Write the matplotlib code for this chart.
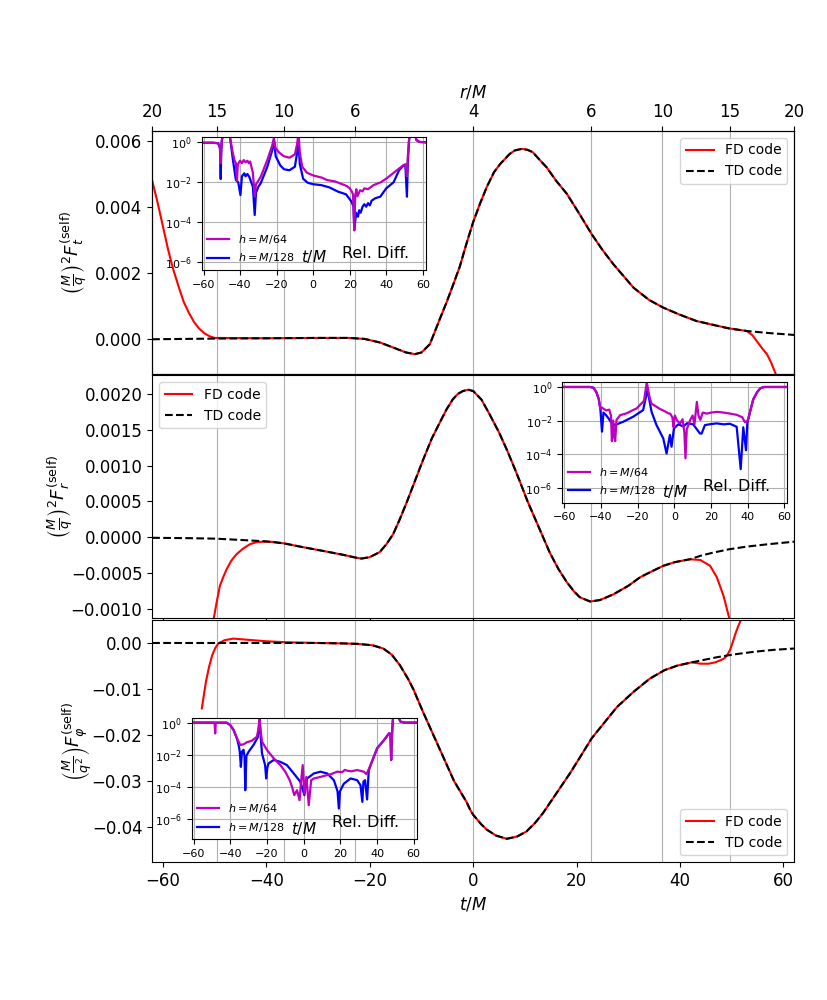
# self-force comparison FD vs TD code, with relative difference insets
import numpy as np
import matplotlib
matplotlib.use('Agg')
import matplotlib.pyplot as plt

# ---- top axis: r/M labels at the times where the orbit passes them
r_tick_t = [-62.1, -49.6, -36.6, -22.85, 0.0, 22.85, 36.6, 49.6, 62.1]
r_tick_labels = ['20', '15', '10', '6', '4', '6', '10', '15', '20']

# ---- F_t (top panel)
ft_t = [-62.1, -56, -50, -40, -30, -24, -21, -18, -15.5, -13, -11.3, -10, -8.4, -7.5,
        -6.5, -5.2, -4, -2.6, -1.3, 0, 1.3, 2.6, 4, 5.2, 7, 8, 9.4, 10.5, 11.5, 13, 14.2, 16,
        18.1, 20.5, 22.9, 25, 27.1, 31, 34, 36.7, 40, 43.2, 46, 49.4, 52.9, 57, 62.1]
ft_td = [0.0, 0.00001, 0.00002, 0.00003, 0.00004, 0.00004, 0.00001, -0.0001, -0.00025,
         -0.0004, -0.00045, -0.0004, -0.00015, 0.0002, 0.0006, 0.0011, 0.0016, 0.0022,
         0.0029, 0.00355, 0.0041, 0.0046, 0.00505, 0.0053, 0.0056, 0.00571, 0.00576,
         0.00573, 0.00566, 0.0054, 0.0052, 0.0048, 0.0044, 0.0038, 0.00318, 0.0027, 0.00227,
         0.00156, 0.00119, 0.00096, 0.00074, 0.00055, 0.00045, 0.00033, 0.00025, 0.00019,
         0.00013]
ft_fd_lt = [-62.1, -61, -60, -59, -58, -57, -56, -55, -54, -53, -52, -51, -50]
ft_fd_lv = [0.0048, 0.0041, 0.0034, 0.0027, 0.0021, 0.0016, 0.00113, 0.0008, 0.00052,
            0.00032, 0.00018, 0.00009, 0.00004]
ft_fd_rt = [52.9, 54, 54.8, 56, 56.8, 57.6, 58.4, 59]
ft_fd_rv = [0.00025, 0.00012, -0.00005, -0.0003, -0.00045, -0.0007, -0.00101, -0.00125]

# ---- F_r (middle panel)
fr_t = [-62.1, -55, -49.8, -45, -40, -36.6, -33, -29, -25, -22.8, -21.6, -20, -18.1,
        -16.8, -15.5, -14.2, -12.9, -11.3, -9.7, -8, -6.4, -5.2, -4, -3, -2, -1, 0, 1.6,
        3.2, 5, 6.5, 8, 9, 10.5, 12.3, 14.8, 16.5, 18.1, 19.5, 20.6, 22.6, 24.5, 27.1, 30,
        32.3, 34.5, 36.8, 39, 41.9, 44, 46.4, 49.5, 52.9, 57, 62.1]
fr_td = [-0.00001, -0.000015, -0.000022, -0.00004, -0.00006, -0.000088, -0.00014,
         -0.000194, -0.00025, -0.000286, -0.0003, -0.00028, -0.00021, -0.0001, 0.00004,
         0.00025, 0.00048, 0.00078, 0.00108, 0.00138, 0.00161, 0.00178, 0.00192, 0.002,
         0.00204, 0.00206, 0.00204, 0.00192, 0.00171, 0.00146, 0.00122, 0.00096, 0.00078,
         0.0005, 0.0002, -0.000217, -0.00045, -0.00063, -0.00076, -0.00084, -0.0009,
         -0.00088, -0.0008, -0.00068, -0.00056, -0.00048, -0.0004, -0.00035, -0.00031,
         -0.00026, -0.000217, -0.00017, -0.000133, -0.0001, -0.000064]
fr_fd_lt = [-50.4, -49.6, -49, -48.3, -47.7, -46.8, -45.8, -44.5, -43.2, -41.9, -40.6, -38.7]
fr_fd_lv = [-0.00122, -0.0009, -0.00068, -0.00055, -0.00045, -0.00033, -0.00024, -0.00016,
            -0.0001, -0.00007, -0.000064, -0.000067]
fr_fd_rt = [41.9, 43.9, 45.8, 47.1, 48.4, 49.4, 49.9]
fr_fd_rv = [-0.00031, -0.00032, -0.0004, -0.00056, -0.00082, -0.0011, -0.00125]

# ---- F_phi (bottom panel)
fp_t = [-62.1, -40, -30, -25, -22.3, -19.5, -17.4, -15.8, -14.2, -12.6, -11.6, -9.7, -7.7,
        -5.7, -3.7, -1.3, -0.6, 0, 1.5, 2.6, 4.4, 6.5, 8.5, 10.3, 12, 13.5, 16.1, 18.7,
        20.7, 22.9, 25.2, 27.8, 31, 34.2, 37, 39.5, 42.3, 47.1, 50.3, 54.4, 58, 62.1]
fp_td = [0.0, 0.0, 0.0, -0.0001, -0.0002, -0.0005, -0.0012, -0.0025, -0.0048, -0.0078,
         -0.01, -0.015, -0.02, -0.025, -0.03, -0.0345, -0.0362, -0.0373, -0.0393, -0.0405,
         -0.0418, -0.0425, -0.042, -0.0409, -0.039, -0.0369, -0.0326, -0.0283, -0.0247,
         -0.0207, -0.0175, -0.0139, -0.0106, -0.0077, -0.0059, -0.0049, -0.0042, -0.0031,
         -0.0025, -0.0019, -0.0015, -0.0012]
fp_fd_lt = [-52.5, -51.7, -51.1, -50.5, -49.9, -49.3, -48.1, -46.4, -44, -42, -40, -36, -32]
fp_fd_lv = [-0.0142, -0.0084, -0.0052, -0.0027, -0.0011, -0.0001, 0.0006, 0.00095, 0.00073,
            0.00055, 0.00037, 0.00015, 0.00005]
fp_fd_rt = [42.3, 44, 45.5, 46.8, 47.9, 48.6, 49.2, 49.7, 50.2, 50.7, 51.3, 51.9, 52.3]
fp_fd_rv = [-0.0042, -0.0045, -0.0045, -0.0042, -0.0037, -0.0033, -0.0025, -0.0014, 0.0002,
            0.002, 0.0038, 0.0053, 0.0062]

# ---- relative differences (insets)
rt_m64_t = [-61, -55, -52, -51, -50.6, -50.3, -50, -49.2, -46, -45.4, -44, -43, -42.3, -41.7,
            -41.2, -40, -39, -38, -37, -36, -35.2, -34.5, -33, -32, -31.3, -30, -28.7, -25.1,
            -22.4, -21.5, -20.5, -18.5, -16, -13, -10, -8.8, -8.0, -7.3, -6, -3.4, 0, 4.8, 7.5,
            12, 18.4, 20, 21.2, 21.8, 22.5, 23, 23.6, 24.2, 25.7, 27, 28, 30, 33, 37, 40.3, 45,
            49.4, 50.5, 51.3, 51.8, 52.5, 53.2, 55.5, 56.5, 58, 61.5]
rt_m64_v = [0.95, 0.95, 0.9, 0.6, 0.09, 0.5, 1.2, 3, 3, 1.5, 0.3, 0.12, 0.09, 0.012, 0.08,
            0.12, 0.09, 0.13, 0.1, 0.12, 0.09, 0.11, 0.03, 0.0019, 0.008, 0.012, 0.019, 0.13,
            0.7, 1.6, 0.5, 0.3, 0.2, 0.17, 0.25, 0.8, 3, 0.3, 0.06, 0.03, 0.022, 0.017, 0.013,
            0.011, 0.0065, 0.005, 0.0034, 0.0025, 0.00004, 0.002, 0.0045, 0.002, 0.004, 0.0035,
            0.005, 0.0045, 0.0072, 0.01, 0.016, 0.035, 0.072, 0.08, 0.02, 0.2, 1.5, 3, 3, 1.3,
            1.05, 1.0]
rt_m128_t = [-61, -55, -52, -51, -50.6, -50.3, -50, -49.2, -46, -45.4, -44, -42.3, -41,
             -39.8, -39, -37.7, -37, -36, -35, -33, -32, -31.3, -30, -28.7, -25.1, -22.4,
             -21.5, -20.5, -18, -16, -13, -10, -8.8, -8.0, -7.3, -5.5, -3, 0, 4.5, 9, 13.6,
             18, 20.9, 22.1, 22.5, 23.5, 24.5, 25.2, 26, 27, 28, 29, 30, 31, 32, 34, 36.7, 40,
             44, 47, 49.5, 50.5, 51.3, 51.8, 52.5, 53.2, 55.5, 56.5, 58, 61.5]
rt_m128_v = [0.95, 0.95, 0.9, 0.5, 0.0145, 0.3, 1.2, 3, 3, 1.5, 0.15, 0.013, 0.01, 0.0023,
             0.02, 0.028, 0.02, 0.026, 0.019, 0.006, 0.00023, 0.003, 0.006, 0.009, 0.06, 0.4,
             1.3, 0.2, 0.07, 0.045, 0.04, 0.06, 0.3, 0.9, 0.08, 0.015, 0.0095, 0.008, 0.0072,
             0.0055, 0.0034, 0.0025, 0.0011, 0.0006, 0.00004, 0.0003, 0.00019, 0.0004, 0.0003,
             0.0006, 0.0008, 0.0006, 0.0009, 0.0007, 0.0012, 0.0016, 0.0019, 0.005, 0.01, 0.04,
             0.07, 0.06, 0.0019, 0.1, 1.3, 3, 3, 1.3, 1.05, 1.0]

rr_m64_t = [-61, -46, -44, -42.5, -41.2, -40.3, -39.4, -38.6, -37, -35.5, -34.5, -34, -33.3,
            -32.6, -32.2, -31.5, -29.5, -26, -22, -20.6, -16.5, -15, -13.5, -12.4, -10, -7.9,
            -5, -3.3, -2.2, -1, -0.4, 0.3, 1.5, 3.2, 4.5, 5.5, 6.1, 6.8, 8.7, 10, 11, 12.3,
            13.2, 14.2, 15.5, 17.8, 20, 23.3, 27, 30.5, 34, 37, 38.5, 40, 41.5, 43, 45.2, 47,
            49, 61.6]
rr_m64_v = [1.0, 1.0, 0.9, 0.5, 0.2, 0.05, 0.06, 0.05, 0.04, 0.045, 0.02, 0.0006, 0.01,
            0.0009, 0.0006, 0.011, 0.021, 0.027, 0.045, 0.052, 0.15, 1.9, 0.25, 0.1, 0.07,
            0.05, 0.035, 0.027, 0.026, 0.015, 0.004, 0.02, 0.01, 0.0068, 0.012, 0.002,
            0.000057, 0.003, 0.011, 0.02, 0.006, 0.13, 0.02, 0.011, 0.03, 0.026, 0.03, 0.033,
            0.03, 0.026, 0.022, 0.016, 0.008, 0.01, 0.04, 0.18, 0.5, 0.85, 1.0, 1.0]
rr_m128_t = [-61, -46, -44, -42.5, -41.2, -40.3, -39.4, -38.6, -37, -35.5, -34.5, -32.4,
             -27.9, -22.4, -17, -14.6, -12.4, -9.7, -6, -4.2, -2.4, -1.5, -0.2, 2.2, 4.9, 7,
             10.3, 14, 14.9, 16.7, 20, 23.1, 27, 30.3, 34, 36.2, 37.6, 39.1, 39.8, 41.5, 43,
             45.2, 47, 49, 61.6]
rr_m128_v = [1.0, 1.0, 0.9, 0.5, 0.2, 0.05, 0.0022, 0.03, 0.02, 0.012, 0.008, 0.0054,
             0.0085, 0.017, 0.042, 0.67, 0.034, 0.0054, 0.00087, 0.00011, 0.0014, 0.00028,
             0.0034, 0.006, 0.0045, 0.007, 0.006, 0.0017, 0.0017, 0.0054, 0.0062, 0.0068,
             0.006, 0.0065, 0.0043, 0.000013, 0.004, 0.00017, 0.007, 0.04, 0.18, 0.5, 0.85,
             1.0, 1.0]

rp_m64_t = [-61, -49, -48.5, -48.2, -47.9, -42, -40, -38.2, -36.3, -34.5, -32.7, -30.9,
            -28.2, -25.5, -24.6, -24, -23.4, -22.7, -20, -16.3, -12.7, -10, -7.6, -6.3, -5.1,
            -3.6, -2.2, -1.4, -0.5, 0.4, 1.5, 2.8, 4.1, 5.6, 9.2, 12.8, 15, 18.3, 21, 22.5,
            23.7, 26, 29.2, 32.8, 34.3, 36.5, 40.1, 43.8, 46.5, 47.3, 47.7, 48.2, 48.8, 51,
            52.8, 55, 61.6]
rp_m64_v = [1.0, 1.0, 0.9, 0.21, 0.95, 1.0, 0.7, 0.35, 0.1, 0.04, 0.044, 0.059, 0.074, 0.13,
            0.4, 1.8, 0.3, 0.065, 0.0195, 0.0058, 0.0022, 0.00085, 0.00025, 0.000095,
            0.000029, 0.000059, 0.000014, 0.0002, 0.0022, 0.000036, 0.0004, 0.0000068,
            0.00025, 0.00032, 0.0004, 0.00052, 0.0006, 0.00085, 0.0008, 0.0011, 0.00098,
            0.0009, 0.00107, 0.00085, 0.0006, 0.0022, 0.025, 0.08, 0.21, 0.2, 0.0046, 0.2,
            3.0, 3.0, 1.15, 1.0, 1.0]
rp_m128_t = [-61, -42, -40, -38.2, -36.3, -35.2, -34.8, -34.2, -33.6, -32.8, -32.2, -31.8,
             -31.2, -30, -27.3, -25, -24, -23.3, -22.7, -21, -20.4, -19.8, -19.1, -16.3,
             -12.7, -9.1, -5.4, -1.8, 0.4, 1.9, 5.6, 9.2, 12.8, 16.5, 18.5, 19.2, 19.8, 21.9,
             25.6, 29.2, 31, 32, 32.6, 33.5, 34.6, 35.5, 36.5, 40.1, 43.8, 46.5, 47.3, 47.7,
             48.2, 48.8, 51, 52.8, 55, 61.6]
rp_m128_v = [1.0, 1.0, 0.7, 0.35, 0.1, 0.03, 0.015, 0.0017, 0.015, 0.02, 0.008, 0.000059,
             0.008, 0.015, 0.04, 0.12, 1.3, 0.1, 0.012, 0.0022, 0.00032, 0.0015, 0.0028,
             0.0046, 0.0035, 0.0022, 0.00066, 0.0002, 0.000029, 0.00032, 0.00066, 0.00085,
             0.00066, 0.00025, 0.00005, 0.0000042, 0.00005, 0.00015, 0.00032, 0.00025,
             0.00012, 0.000011, 0.0002, 0.00025, 0.0000155, 0.001, 0.0022, 0.025, 0.08, 0.21,
             0.2, 0.0046, 0.2, 3.0, 3.0, 1.15, 1.0, 1.0]


def fd_curve(t_td, v_td, tl, vl, tr, vr):
    # FD data: its own ends, the TD values in between where both agree
    t_td = np.array(t_td)
    v_td = np.array(v_td)
    mid = (t_td > tl[-1]) & (t_td < tr[0])
    t = np.concatenate([tl, t_td[mid], tr])
    v = np.concatenate([vl, v_td[mid], vr])
    return t, v


fig = plt.figure(figsize=(8.27, 10), dpi=100)
axes = fig.subplots(3, 1, sharex=True)
fig.subplots_adjust(left=0.184, right=0.9605, top=0.869, bottom=0.1377, hspace=0.007)

panels = [
    (ft_t, ft_td, ft_fd_lt, ft_fd_lv, ft_fd_rt, ft_fd_rv, (-0.00104, 0.0063),
     r'$\left(\frac{M}{q}\right)^2 F^{(\mathrm{self})}_t$', 'upper right', -0.097),
    (fr_t, fr_td, fr_fd_lt, fr_fd_lv, fr_fd_rt, fr_fd_rv, (-0.00113, 0.00226),
     r'$\left(\frac{M}{q}\right)^2 F^{(\mathrm{self})}_r$', 'upper left', -0.12),
    (fp_t, fp_td, fp_fd_lt, fp_fd_lv, fp_fd_rt, fp_fd_rv, (-0.0476, 0.00506),
     r'$\left(\frac{M}{q^2}\right) F^{(\mathrm{self})}_\varphi$', 'lower right', -0.09),
]

for ax, (tt, td, tl, vl, tr, vr, ylim, ylab, loc, labx) in zip(axes, panels):
    for x in r_tick_t:
        ax.axvline(x, color='#b0b0b0', lw=0.8, zorder=0.5)
    t_fd, v_fd = fd_curve(tt, td, tl, vl, tr, vr)
    ax.plot(t_fd, v_fd, 'r-', lw=1.5, label='FD code')
    ax.plot(tt, td, 'k--', lw=1.5, label='TD code')
    ax.set_ylim(*ylim)
    ax.set_ylabel(ylab, fontsize=13)
    ax.yaxis.set_label_coords(labx, 0.5)
    ax.tick_params(labelsize=12)
    ax.legend(loc=loc, fontsize=10)

axes[0].set_xlim(-62.1, 62.1)
axes[2].set_xlabel('$t/M$', fontsize=12)

ax_r = axes[0].twiny()
ax_r.set_xlim(axes[0].get_xlim())
ax_r.set_xticks(r_tick_t)
ax_r.set_xticklabels(r_tick_labels)
ax_r.tick_params(labelsize=12)
ax_r.set_xlabel('$r/M$', fontsize=12)

insets = [
    ([0.2439, 0.730, 0.2709, 0.1327], (4.1e-7, 1.78), rt_m64_t, rt_m64_v, rt_m128_t, rt_m128_v,
     (0.50, 0.10), (0.774, 0.128)),
    ([0.680, 0.4973, 0.272, 0.1204], (1.3e-7, 1.9), rr_m64_t, rr_m64_v, rr_m128_t, rr_m128_v,
     (0.50, 0.092), (0.776, 0.138)),
    ([0.2318, 0.1607, 0.272, 0.121], (5e-8, 1.86), rp_m64_t, rp_m64_v, rp_m128_t, rp_m128_v,
     (0.50, 0.093), (0.775, 0.135)),
]

for rect, ylim, t64, v64, t128, v128, tm_pos, rd_pos in insets:
    ins = fig.add_axes(rect)
    l128, = ins.plot(t128, v128, color='b', lw=1.6, label=r'$h=M/128$')
    l64, = ins.plot(t64, v64, color='m', lw=1.6, label=r'$h=M/64$')
    ins.set_yscale('log')
    ins.set_xlim(-61, 61.6)
    ins.set_ylim(*ylim)
    ins.set_yticks([1, 1e-2, 1e-4, 1e-6])
    ins.yaxis.set_minor_locator(matplotlib.ticker.NullLocator())
    ins.set_xticks([-60, -40, -20, 0, 20, 40, 60])
    ins.tick_params(labelsize=8)
    ins.grid(True)
    ins.legend(handles=[l64, l128], loc='lower left', fontsize=8, frameon=False,
               borderaxespad=0.1)
    ins.text(tm_pos[0], tm_pos[1], '$t/M$', transform=ins.transAxes, fontsize=11,
             ha='center', va='center')
    ins.text(rd_pos[0], rd_pos[1], 'Rel. Diff.', transform=ins.transAxes, fontsize=11.5,
             ha='center', va='center')

fig.savefig('out.png', dpi=100)
